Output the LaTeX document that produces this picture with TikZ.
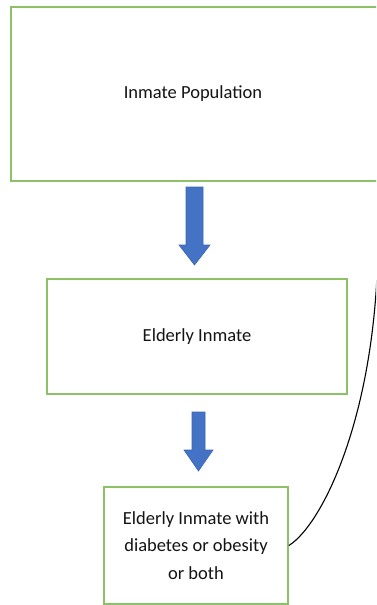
\documentclass[tikz,border=0pt]{standalone}
\usepackage{fontspec}
\setmainfont{Carlito}
\begin{document}
\begin{tikzpicture}[x=1pt,y=-1pt,
  frame/.style={draw=stagegreen, line width=1.8pt},
  stage/.style={frame, fill=white, inner sep=0pt,
    align=center, font=\fontsize{18.5}{27.5}\selectfont, text=black!92},
  blockarrow/.style={fill=arrowblue, draw=arrowedge, line width=0.6pt, line join=miter},
  link/.style={draw=black, line width=1.1pt}]
\definecolor{stagegreen}{HTML}{8CC168}
\definecolor{arrowblue}{HTML}{4472C4}
\definecolor{arrowedge}{HTML}{3B65B3}
\useasboundingbox (0,0) rectangle (376,605);
\clip (0,0) rectangle (376,605);

% first stage: its box runs out past the right margin
\node[inner sep=0pt, minimum width=380pt, minimum height=174pt] (pop) at (201,94) {};
\draw[frame] (pop.north east) -- (pop.north west) -- (pop.south west) -- (pop.south east);
\node[font=\fontsize{18.5}{27.5}\selectfont, text=black!92] (poplabel) at (193,94) {Inmate Population};

% further stages
\node[stage, minimum width=300pt, minimum height=115pt] (eld) at (197,336.5) {Elderly Inmate};
\node[stage, minimum width=184pt, minimum height=117pt] (dia) at (196,545.5)
  {Elderly Inmate with\\diabetes or obesity\\or both};

% block arrows between the stages
\draw[blockarrow] (186,187) -- (203,187) -- (203,245) -- (210,245) -- (194.5,265)
  -- (179,245) -- (186,245) -- cycle;
\draw[blockarrow] (192,412) -- (205,412) -- (205,450) -- (213,450) -- (198.5,471)
  -- (184,450) -- (192,450) -- cycle;

% curved connector leaving the last stage
\coordinate (lend) at (378,240);
\draw[link] (dia.east) .. controls (322,525) and (377,415) .. (lend);
\end{tikzpicture}
\end{document}
